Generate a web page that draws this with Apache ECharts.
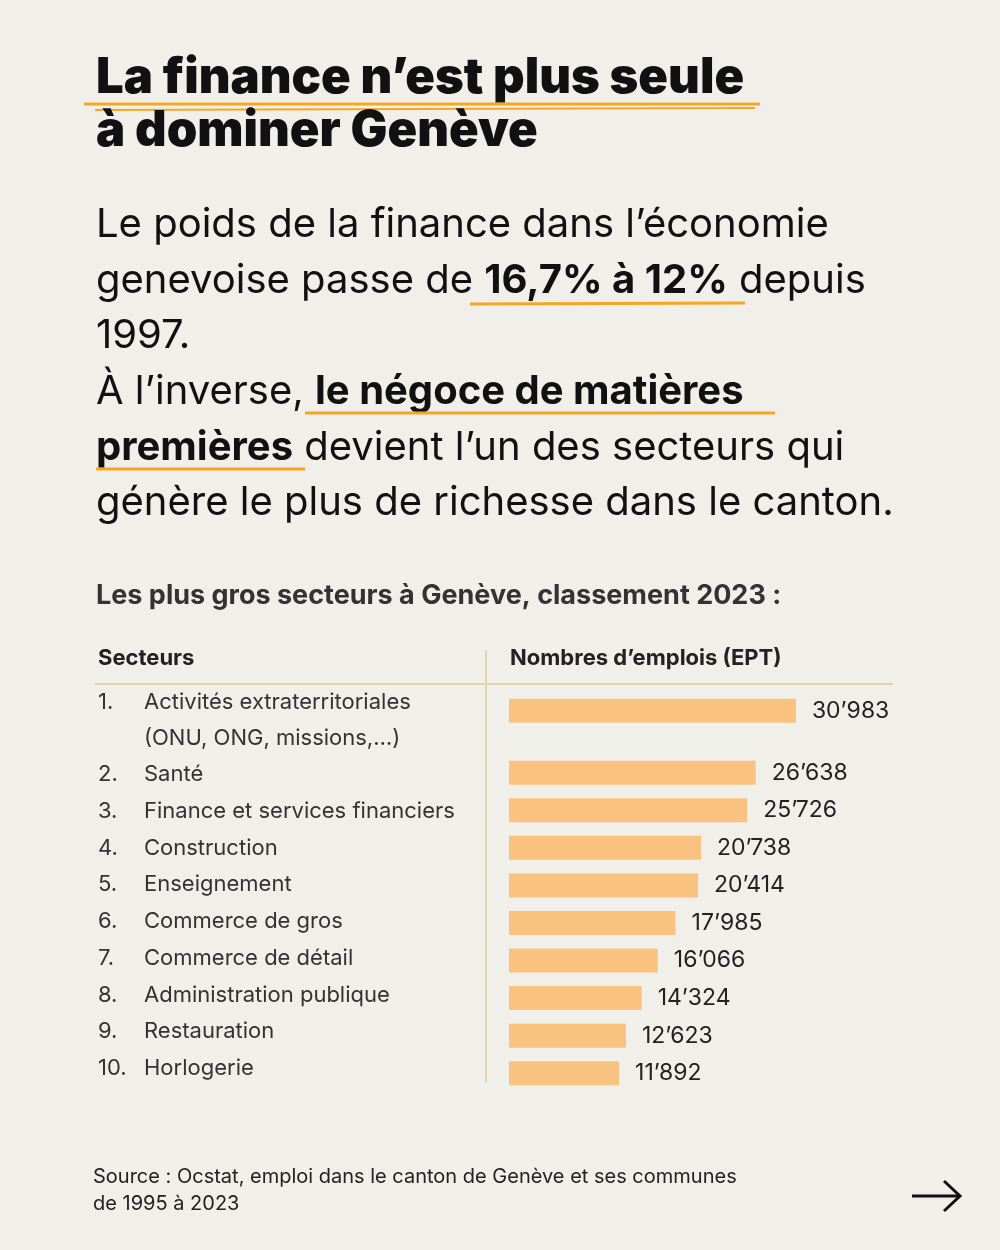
<!DOCTYPE html>
<html><head><meta charset="utf-8">
<script src="https://cdn.jsdelivr.net/npm/echarts@6/dist/echarts.min.js"></script>
<style>html,body{margin:0;padding:0;background:#f1efea}#c{width:1000px;height:1250px}</style>
</head><body><div id="c"></div>
<script>
const sectors=['Activités extraterritoriales','Santé','Finance et services financiers','Construction','Enseignement','Commerce de gros','Commerce de détail','Administration publique','Restauration','Horlogerie'];
const sectorNote='(ONU, ONG, missions,…)';
const jobs=[30983,26638,25726,20738,20414,17985,16066,14324,12623,11892];
const rowPos=jobs.map((v,i)=>i+(i>0?0.65:0));
const F='Inter, "Noto Sans", sans-serif';
const fmt=v=>String(v).replace(/\B(?=(\d{3})+$)/,'’');
const chart=echarts.init(document.getElementById('c'));
const g=[];
function t(x,y,text,size,weight,extra){g.push({type:'text',left:x,top:y,style:Object.assign({text,font:`${weight} ${size}px ${F}`,fill:'#111'},extra||{})});}
function line(x1,y1,x2,y2,c,w){g.push({type:'line',shape:{x1,y1,x2,y2},style:{stroke:c,lineWidth:w}});}
t(96,54,'La finance n’est plus seule',49,900);
line(84,104,760,104,'#f5a623',3);line(95,110,755,108,'#f5a623',2);
t(96,107,'à dominer Genève',49,900);
const bs=40;
t(96,205,'Le poids de la finance dans l’économie',bs,400);
g.push({type:'text',left:96,top:261,style:{rich:{a:{font:`400 ${bs}px ${F}`,fill:'#111'},b:{font:`700 ${bs}px ${F}`,fill:'#111'}},text:'{a|genevoise passe de }{b|16,7% à 12%}{a| depuis}'}});
line(470,304,745,303,'#f5a623',3);
t(96,316,'1997.',bs,400);
g.push({type:'text',left:96,top:372,style:{rich:{a:{font:`400 ${bs}px ${F}`,fill:'#111'},b:{font:`700 ${bs}px ${F}`,fill:'#111'}},text:'{a|À l’inverse, }{b|le négoce de matières}'}});
line(305,413,775,413,'#f5a623',3);
g.push({type:'text',left:96,top:428,style:{rich:{a:{font:`400 ${bs}px ${F}`,fill:'#111'},b:{font:`700 ${bs}px ${F}`,fill:'#111'}},text:'{b|premières}{a| devient l’un des secteurs qui}'}});
line(96,469,305,469,'#f5a623',3);
t(96,483,'génère le plus de richesse dans le canton.',bs,400);
t(96,582,'Les plus gros secteurs à Genève, classement 2023 :',27,700,{fill:'#333'});
t(98,647,'Secteurs',22,700,{fill:'#222'});
t(510,647,'Nombres d’emplois (EPT)',22,700,{fill:'#222'});
line(95,684,893,684,'#e2d3ad',2);
line(486,650,486,1082,'#e2d3ad',2);
const rowY=[691,763,800,837,873,910,947,984,1020,1057];
sectors.forEach((s,i)=>{t(98,rowY[i],(i+1)+'.',22,400,{fill:'#333'});t(144,rowY[i],s,22,400,{fill:'#333'});});
t(144,727,sectorNote,22,400,{fill:'#333'});
t(93,1167,'Source : Ocstat, emploi dans le canton de Genève et ses communes',20,400,{fill:'#222'});
t(93,1194,'de 1995 à 2023',20,400,{fill:'#222'});
line(912,1196,960,1196,'#111',3);
g.push({type:'polyline',shape:{points:[[944,1181],[960,1196],[944,1211]]},style:{stroke:'#111',lineWidth:3,fill:null}});
chart.setOption({
 backgroundColor:'#f1efea',animation:false,
 grid:{left:509,top:692,width:370.4,height:400},
 xAxis:{type:'value',min:0,max:40000,show:false},
 yAxis:{type:'value',min:-0.5,max:10.15,inverse:true,show:false},
 series:[{type:'custom',data:jobs.map((v,i)=>[v,rowPos[i]]),
  renderItem:(params,api)=>{
   const p0=api.coord([0,api.value(1)]),p1=api.coord([api.value(0),api.value(1)]);
   return {type:'group',children:[
    {type:'rect',shape:{x:p0[0],y:p0[1]-12,width:p1[0]-p0[0],height:24},style:{fill:'#f9c27e'}},
    {type:'text',style:{x:p1[0]+16,y:p1[1],text:fmt(api.value(0)),font:`400 23px ${F}`,fill:'#222',verticalAlign:'middle'}}
   ]};
  }}],
 graphic:g
});
</script></body></html>
